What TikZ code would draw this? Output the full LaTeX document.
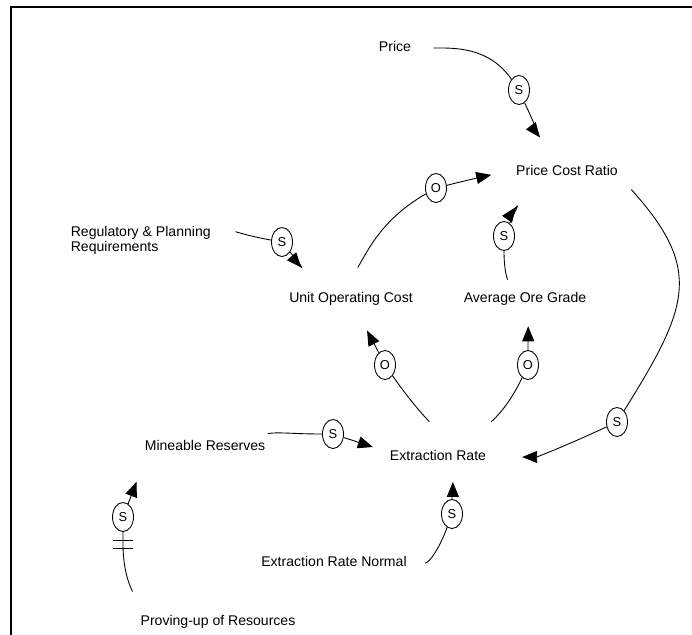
\documentclass[tikz,border=0pt]{standalone}
\usepackage{fontspec}
\setmainfont{Liberation Sans}
\usepackage{tikz}
\usetikzlibrary{shapes.geometric,arrows.meta,calc}

\begin{document}
\begin{tikzpicture}[x = 0.03cm, y = 0.03cm, line width = 0.75pt]
	\tikzstyle{var} = [inner sep = 2pt, font = \fontsize{12}{12.8}\selectfont, text height = 8.6pt, text depth = 2.5pt]
	\tikzstyle{sgn} = [ellipse, draw = black, minimum width = 0.63cm, minimum height = 0.87cm, inner sep = 0pt, font = \fontsize{11}{13}\selectfont]
	\tikzstyle{arr} = [-{Triangle[length = 4.5mm, width = 3.6mm]}]
\useasboundingbox (0, 0) rectangle (692, -634);
\path[draw, line width = 2pt] (11, -640) -- (11, -7) -- (700, -7);
\node[var] (p) at (395, -48) {Price};
\node[var] (pcr) at (567, -172) {Price Cost Ratio};
\node[inner sep = 2pt, font = \fontsize{12}{12.8}\selectfont, align = left, anchor = west] (reg) at (68, -240) {Regulatory \& Planning\\Requirements};
\node[var] (uoc) at (351, -299) {Unit Operating Cost};
\node[var] (aog) at (525, -299) {Average Ore Grade};
\node[var] (er) at (438, -457) {Extraction Rate};
\node[var] (mr) at (205, -447) {Mineable Reserves};
\node[var] (ern) at (334, -563) {Extraction Rate Normal};
\node[var] (pu) at (218, -622) {Proving-up of Resources};
 \node[sgn] (s1) at (519, -90) {S};
 \node[sgn] (o2) at (436, -188) {O};
 \node[sgn] (s3) at (282, -242) {S};
 \node[sgn] (s4) at (504, -236) {S};
 \node[sgn] (o5) at (385, -365) {O};
 \node[sgn] (o6) at (528, -365) {O};
 \node[sgn] (s7) at (617, -422) {S};
 \node[sgn] (s8) at (333, -434) {S};
 \node[sgn] (s9) at (452, -514) {S};
 \node[sgn] (s10) at (123, -517) {S};
\coordinate (dly) at (123, -544);
	% links into price cost ratio
	\path[draw, shorten <= 5.9mm] (p) to[out = 0, in = 125] (s1);
	\path[draw, arr, shorten >= 9.6mm] (s1) to[out = -66, in = 128] (pcr);
	\path[draw, shorten <= 7.7mm] (uoc.123) to[out = 60, in = 210] (o2);
	\path[draw, arr, shorten >= 6.8mm] (o2) to[out = 14, in = 192] (pcr.178);
	\path[draw, shorten <= 3.2mm] (aog.146) to[out = 110, in = -90] (s4);
	\path[draw, arr, shorten >= 9.6mm] (s4) to[out = 66, in = 234] (pcr.196);
	% into unit operating cost
	\path[draw, shorten <= 6.6mm] (reg) to[out = 5, in = 170] (s3);
	\path[draw, arr, shorten >= 8.8mm] (s3) to[out = -51, in = 131] (uoc.163);
	\path[draw, shorten <= 11.1mm] (er.28) to[out = 135, in = -55] (o5);
	\path[draw, arr, shorten >= 7.5mm] (o5) to[out = 117, in = -63] (uoc);
	% into average ore grade
	\path[draw, shorten <= 11.7mm] (er.21) to[out = 42, in = -115] (o6);
	\path[draw, arr, shorten >= 5.4mm] (o6) to[out = 90, in = -90] (aog.-71);
	% into extraction rate
	\path[draw, shorten <= 4.8mm] (pcr.-6) to[out = -48, in = 58, looseness = 1.35] (s7);
	\path[draw, arr, shorten >= 10mm] (s7) to[out = 205, in = 0] (er);
	\path[draw, shorten <= 5.9mm] (mr) to[out = 12, in = 180] (s8);
	\path[draw, arr, shorten >= 4.5mm] (s8) to[out = -18, in = 162] (er.174);
	\path[draw, shorten <= 4.7mm] (ern) to[out = 0, in = -110] (s9);
	\path[draw, arr, shorten >= 4.7mm] (s9) to[out = 90, in = -90] (er.-32);
	% into mineable reserves, with delay
	\path[draw, shorten <= 7mm] (pu.173) to[out = 115, in = -90] (dly) -- (s10);
	\path[draw, arr, shorten >= 8.2mm] (s10) -- (mr.189);
	\path[draw] ([shift = {(-10, 4)}]dly) -- ++(20, 0) ([shift = {(-10, -4)}]dly) -- ++(20, 0);
\end{tikzpicture}
\end{document}
